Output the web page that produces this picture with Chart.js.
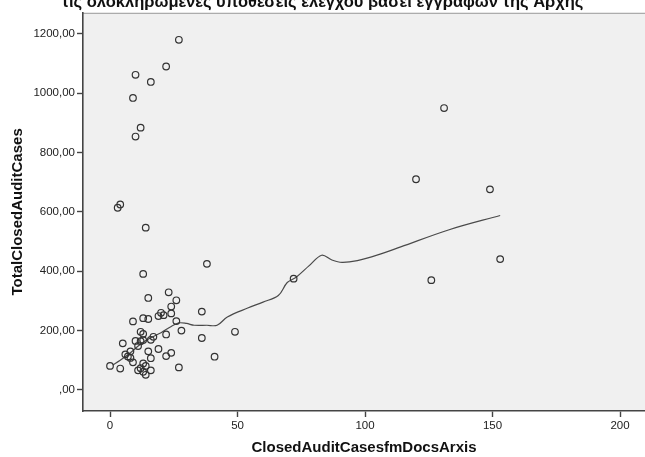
<!DOCTYPE html>
<html>
<head>
<meta charset="utf-8">
<title>ClosedAuditCasesfmDocsArxis</title>
<script src="https://cdn.jsdelivr.net/npm/chart.js@4.4.1/dist/chart.umd.min.js"></script>
<style>
  html, body { margin: 0; padding: 0; background: #ffffff; }
</style>
</head>
<body>
<canvas id="auditChart" width="645" height="457"></canvas>
<script>
// one point per office: audit cases closed from Arxis documents vs total closed cases
var docsCases = [27, 22, 10, 16, 9, 12, 10, 4, 3, 14, 38, 13, 131, 120, 149, 153, 126, 72,
    23, 26, 15, 24, 20, 21, 24, 19, 13, 15, 9, 26, 36,
    28, 12, 13, 22, 17, 16, 10, 12, 13, 5, 11, 15, 8, 19, 24, 22, 6, 7, 8, 16,
    9, 0, 4, 13, 14, 12, 11, 13, 16, 14, 27, 36, 49, 41];
var totalCases = [1180, 1090, 1062, 1038, 984, 884, 854, 625, 614, 547, 425, 391, 950, 710, 676, 441, 370, 375,
    329, 302, 310, 281, 260, 252, 258, 249, 242, 239, 231, 232, 264,
    200, 196, 189, 187, 179, 169, 165, 164, 168, 157, 148, 130, 130, 138, 125, 114, 120, 113, 108, 107,
    93, 81, 72, 89, 81, 73, 66, 61, 66, 51, 76, 175, 196, 112];

// loess fit line
var fitX = [1, 4, 8, 12, 16, 20, 24, 27, 30, 33, 38, 42, 46, 54, 60, 66, 69.5, 73, 78, 83, 87, 91, 97, 105, 114, 133, 153];
var fitY = [84, 100, 125, 155, 176, 193, 214, 226, 224, 218, 218, 218, 246, 276, 296, 318, 362, 380, 418, 454, 438, 430, 436, 455, 482, 540, 588];

var xTicks = [0, 50, 100, 150, 200];
var yTicks = [0, 200, 400, 600, 800, 1000, 1200];
var yTickLabels = [',00', '200,00', '400,00', '600,00', '800,00', '1000,00', '1200,00'];

var chartTitle = 'τις ολοκληρωμένες υποθέσεις ελέγχου βάσει εγγράφων της Αρχής';

var FONT = '"Liberation Sans", Arial, sans-serif';
var AXIS = '#444444';

var points = docsCases.map(function (x, i) { return { x: x, y: totalCases[i] }; });
var fitLine = fitX.map(function (x, i) { return { x: x, y: fitY[i] }; });

// grey plot background with a thin frame line on top
var plotBackground = {
    id: 'plotBackground',
    beforeDraw: function (chart) {
        var a = chart.chartArea;
        var ctx = chart.ctx;
        ctx.save();
        ctx.fillStyle = '#f0f0f0';
        ctx.fillRect(a.left, a.top, a.right - a.left, a.bottom - a.top);
        ctx.strokeStyle = '#9a9a9a';
        ctx.lineWidth = 1;
        ctx.beginPath();
        ctx.moveTo(a.left, a.top + 0.5);
        ctx.lineTo(a.right, a.top + 0.5);
        ctx.stroke();
        ctx.restore();
    }
};

var ctx = document.getElementById('auditChart').getContext('2d');
var chart = new Chart(ctx, {
    type: 'scatter',
    data: {
        datasets: [{
            label: 'TotalClosedAuditCases',
            data: points,
            pointStyle: 'circle',
            pointRadius: 3.3,
            pointHoverRadius: 3.3,
            pointBorderWidth: 1.2,
            pointBorderColor: '#333333',
            pointBackgroundColor: 'rgba(0,0,0,0)',
            order: 1
        }, {
            type: 'line',
            label: 'Loess',
            data: fitLine,
            borderColor: '#4a4a4a',
            borderWidth: 1.2,
            tension: 0.35,
            pointRadius: 0,
            fill: false,
            order: 2
        }]
    },
    options: {
        responsive: false,
        animation: false,
        layout: { padding: 0, autoPadding: false },
        scales: {
            x: {
                type: 'linear',
                min: -10.6,
                max: 209.8,
                afterBuildTicks: function (scale) {
                    scale.ticks = xTicks.map(function (v) { return { value: v }; });
                },
                afterFit: function (scale) {
                    scale.height = 46;
                    // plot runs to the right edge of the canvas
                    scale.paddingLeft = 0;
                    scale.paddingRight = 0;
                },
                border: { display: true, color: AXIS, width: 1.6 },
                grid: {
                    drawOnChartArea: false,
                    drawTicks: true,
                    tickLength: 6,
                    tickColor: AXIS,
                    tickWidth: 1.4
                },
                ticks: {
                    padding: 2,
                    color: '#222222',
                    font: { family: FONT, size: 11.5 }
                },
                title: {
                    display: true,
                    text: 'ClosedAuditCasesfmDocsArxis',
                    color: '#111111',
                    padding: { top: 0, bottom: 0 },
                    font: { family: FONT, size: 15, weight: 'bold' }
                }
            },
            y: {
                type: 'linear',
                min: -71,
                max: 1271,
                afterBuildTicks: function (scale) {
                    scale.ticks = yTicks.map(function (v) { return { value: v }; });
                },
                afterFit: function (scale) {
                    scale.width = 83;
                    scale.paddingTop = 0;
                    scale.paddingBottom = 0;
                },
                border: { display: true, color: AXIS, width: 1.6 },
                grid: {
                    drawOnChartArea: false,
                    drawTicks: true,
                    tickLength: 6,
                    tickColor: AXIS,
                    tickWidth: 1.4
                },
                ticks: {
                    padding: 2,
                    color: '#222222',
                    font: { family: FONT, size: 11.5 },
                    callback: function (value) {
                        return yTickLabels[yTicks.indexOf(value)];
                    }
                },
                title: {
                    display: true,
                    text: 'TotalClosedAuditCases',
                    color: '#111111',
                    padding: { top: 9, bottom: 0 },
                    font: { family: FONT, size: 15, weight: 'bold' }
                }
            }
        },
        plugins: {
            legend: { display: false },
            tooltip: { enabled: false },
            title: {
                display: true,
                text: chartTitle,
                color: '#111111',
                padding: { top: -7, bottom: 0 },
                font: { family: FONT, size: 16.5, weight: 'bold' }
            }
        }
    },
    plugins: [plotBackground]
});
</script>
</body>
</html>
